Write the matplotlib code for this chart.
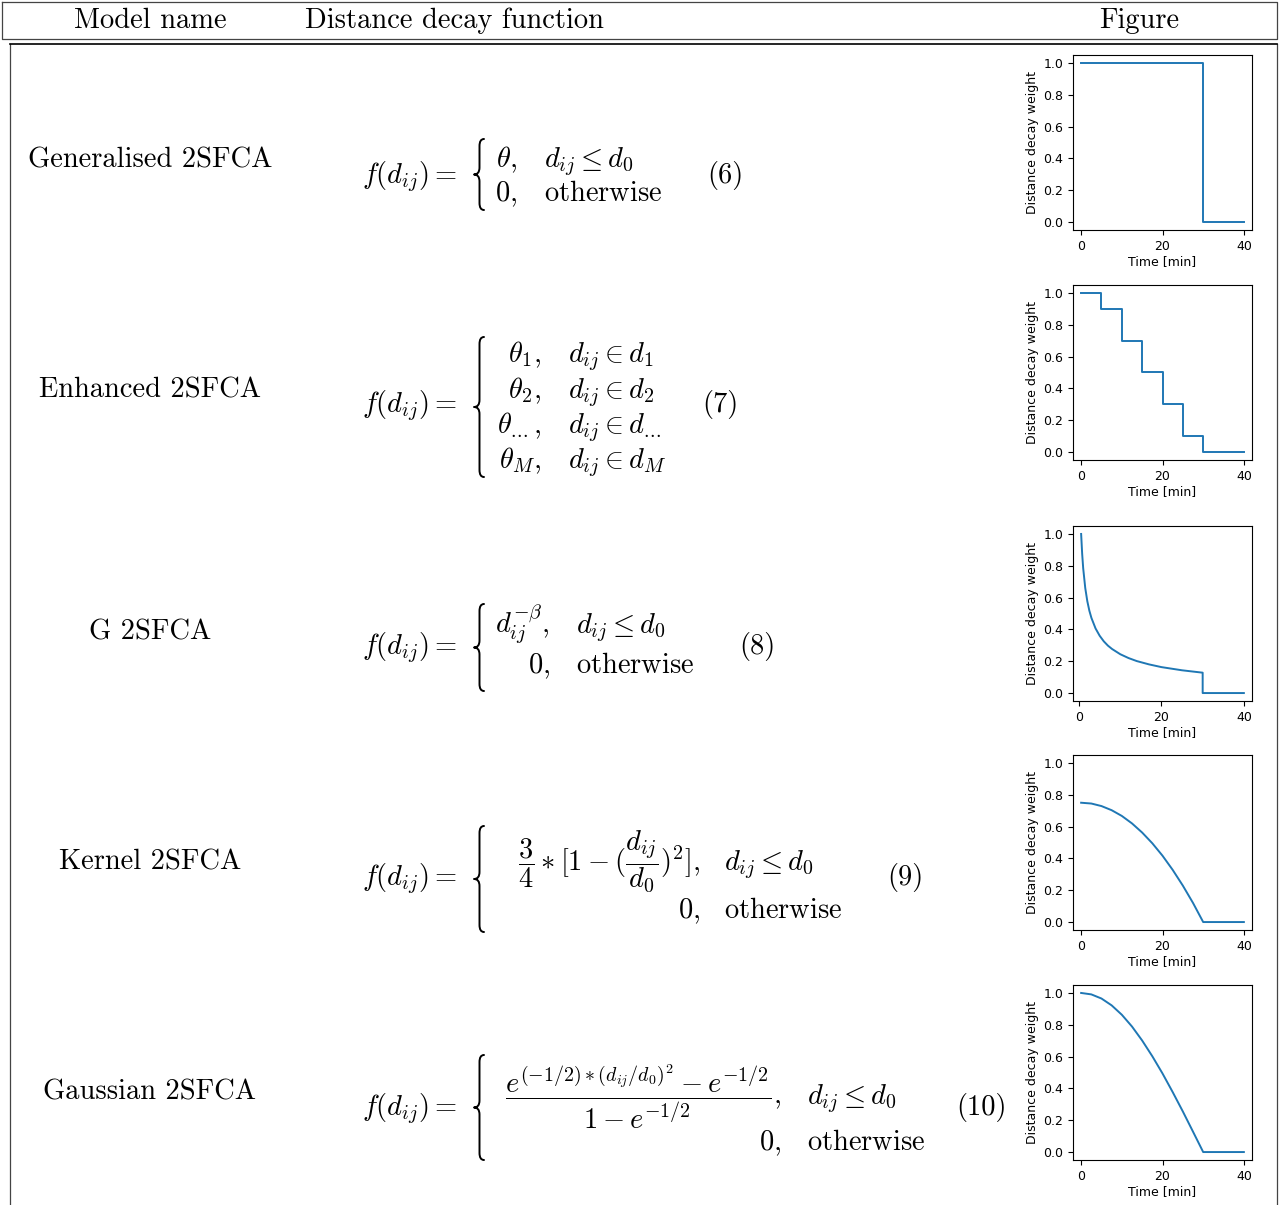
import matplotlib
matplotlib.use("Agg")
import matplotlib.pyplot as plt
from matplotlib.path import Path
from matplotlib.patches import PathPatch

plt.rcParams["mathtext.fontset"] = "cm"

W, H = 1286, 1205

# ---- table content -------------------------------------------------------
header_labels = ["Model name", "Distance decay function", "Figure"]
model_names = ["Generalised 2SFCA", "Enhanced 2SFCA", "G 2SFCA",
               "Kernel 2SFCA", "Gaussian 2SFCA"]
equation_numbers = ["(6)", "(7)", "(8)", "(9)", "(10)"]

DOTS = r".\!.\!."
case_values = [
    [r"$\theta,$", r"$0,$"],
    [r"$\theta_1,$", r"$\theta_2,$", r"$\theta_{" + DOTS + r"},$", r"$\theta_M,$"],
    [r"$d_{ij}^{-\beta},$", r"$0,$"],
    [r"$\dfrac{3}{4} * [1 - (\dfrac{d_{ij}}{d_0})^2],$", r"$0,$"],
    [r"$\dfrac{e^{(-1/2) * (d_{ij}/d_0)^2} - e^{-1/2}}{1 - e^{-1/2}},$", r"$0,$"],
]
case_conditions = [
    [r"$d_{ij} \leq d_0$", r"$\mathrm{otherwise}$"],
    [r"$d_{ij} \in d_1$", r"$d_{ij} \in d_2$", r"$d_{ij} \in d_{" + DOTS + r"}$",
     r"$d_{ij} \in d_M$"],
    [r"$d_{ij} \leq d_0$", r"$\mathrm{otherwise}$"],
    [r"$d_{ij} \leq d_0$", r"$\mathrm{otherwise}$"],
    [r"$d_{ij} \leq d_0$", r"$\mathrm{otherwise}$"],
]

# ---- distance decay curves (time in minutes, weight) ---------------------
gen_time = [0, 30, 40]
gen_weight = [1.0, 0.0, 0.0]

enh_time = [0, 5, 10, 15, 20, 25, 30, 40]
enh_weight = [1.0, 0.9, 0.7, 0.5, 0.3, 0.1, 0.0, 0.0]

grav_time = [0.5, 0.75, 1, 1.5, 2, 2.5, 3, 4, 5, 6, 7, 8, 10, 12, 14, 17,
             20, 25, 30, 30, 40]
grav_weight = [1.0, 0.875, 0.784, 0.66, 0.577, 0.517, 0.472, 0.406, 0.36,
               0.325, 0.298, 0.277, 0.244, 0.22, 0.201, 0.18, 0.163, 0.143,
               0.128, 0.0, 0.0]

kern_time = [0, 2.5, 5, 7.5, 10, 12.5, 15, 17.5, 20, 22.5, 25, 27.5, 30, 40]
kern_weight = [0.75, 0.745, 0.729, 0.703, 0.667, 0.620, 0.5625, 0.495,
               0.417, 0.328, 0.229, 0.120, 0.0, 0.0]

gaus_time = [0, 2.5, 5, 7.5, 10, 12.5, 15, 17.5, 20, 22.5, 25, 27.5, 30, 40]
gaus_weight = [1.0, 0.991, 0.965, 0.922, 0.863, 0.789, 0.701, 0.602, 0.494,
               0.377, 0.255, 0.128, 0.0, 0.0]

x_ticks = [0, 20, 40]
y_ticks = [0.0, 0.2, 0.4, 0.6, 0.8, 1.0]

# ---- layout (pixel coordinates, y measured from the top) -----------------
row_axis_baseline = [183, 412, 654, 885, 1115]
name_baseline = [167, 398, 640, 870, 1100]
case_baselines = [[167, 201], [362, 398, 433, 468], [633, 673], [870, 918],
                  [1104, 1150]]
value_right = [517, 541, 550, 700, 781]
cond_left = [544, 568, 576, 724, 807]
number_left = [707, 702, 739, 887, 956]
brace_span = [(139, 210), (337, 477), (604, 691), (826, 932), (1055, 1160)]
axes_top = [55, 285, 526, 755, 985]

FS = 20.5
SERIF = "cmr10"

fig = plt.figure(figsize=(W / 100, H / 100), dpi=100)
canvas = fig.add_axes([0, 0, 1, 1])
canvas.set_xlim(0, W)
canvas.set_ylim(H, 0)
canvas.axis("off")

# table frames
frame_col = "#444444"
canvas.plot([2, 1277, 1277, 2, 2], [2, 2, 39, 39, 2], color=frame_col, lw=0.9)
canvas.plot([10, 10], [H + 5, 44], color=frame_col, lw=0.9)
canvas.plot([1277, 1277], [H + 5, 44], color=frame_col, lw=0.9)
canvas.plot([10, 1277], [44, 44], color="black", lw=1.2)

# header
canvas.text(150, 28, header_labels[0], ha="center", va="baseline",
            fontsize=FS, family=SERIF)
canvas.text(305, 28, header_labels[1], ha="left", va="baseline",
            fontsize=FS, family=SERIF)
canvas.text(1139, 28, header_labels[2], ha="center", va="baseline",
            fontsize=FS, family=SERIF)


def brace(x_tip, x_end, y_top, y_bot):
    xm = x_tip + 0.55 * (x_end - x_tip)
    ymid = 0.5 * (y_top + y_bot)
    r = 7
    verts = [(x_end, y_top), (xm, y_top), (xm, y_top + r),
             (xm, ymid - r), (xm, ymid), (x_tip, ymid),
             (xm, ymid), (xm, ymid + r),
             (xm, y_bot - r), (xm, y_bot), (x_end, y_bot)]
    codes = [Path.MOVETO, Path.CURVE3, Path.CURVE3,
             Path.LINETO, Path.CURVE3, Path.CURVE3,
             Path.CURVE3, Path.CURVE3,
             Path.LINETO, Path.CURVE3, Path.CURVE3]
    canvas.add_patch(PathPatch(Path(verts, codes), fill=False,
                               lw=1.4, edgecolor="black",
                               capstyle="round", joinstyle="round"))


for i in range(5):
    canvas.text(150, name_baseline[i], model_names[i], ha="center",
                va="baseline", fontsize=FS, family=SERIF)
    canvas.text(362, row_axis_baseline[i], r"$f(d_{ij}) =$", ha="left",
                va="baseline", fontsize=FS)
    y0, y1 = brace_span[i]
    brace(474, 484, y0, y1)
    for val, cond, yb in zip(case_values[i], case_conditions[i],
                             case_baselines[i]):
        canvas.text(value_right[i], yb, val, ha="right", va="baseline",
                    fontsize=FS)
        canvas.text(cond_left[i], yb, cond, ha="left", va="baseline",
                    fontsize=FS)
    canvas.text(number_left[i], row_axis_baseline[i], equation_numbers[i],
                ha="left", va="baseline", fontsize=FS, family=SERIF)

# ---- small plots ---------------------------------------------------------
curves = [
    ("step", gen_time, gen_weight),
    ("step", enh_time, enh_weight),
    ("line", grav_time, grav_weight),
    ("line", kern_time, kern_weight),
    ("line", gaus_time, gaus_weight),
]
ax_left, ax_right, ax_h = 1073, 1252, 175
for i, (kind, t, w) in enumerate(curves):
    top = axes_top[i]
    ax = fig.add_axes([ax_left / W, 1 - (top + ax_h) / H,
                       (ax_right - ax_left) / W, ax_h / H])
    if kind == "step":
        ax.step(t, w, where="post", color="#1f77b4", lw=1.4)
    else:
        ax.plot(t, w, color="#1f77b4", lw=1.4)
    ax.set_ylim(-0.05, 1.05)
    ax.set_xticks(x_ticks)
    ax.set_yticks(y_ticks)
    ax.tick_params(labelsize=9, length=3.5, width=0.8)
    for s in ax.spines.values():
        s.set_linewidth(0.8)
    ax.set_xlabel("Time [min]", fontsize=9, labelpad=2)
    ax.set_ylabel("Distance decay weight", fontsize=9, labelpad=3)

fig.savefig("out.png", dpi=100)
